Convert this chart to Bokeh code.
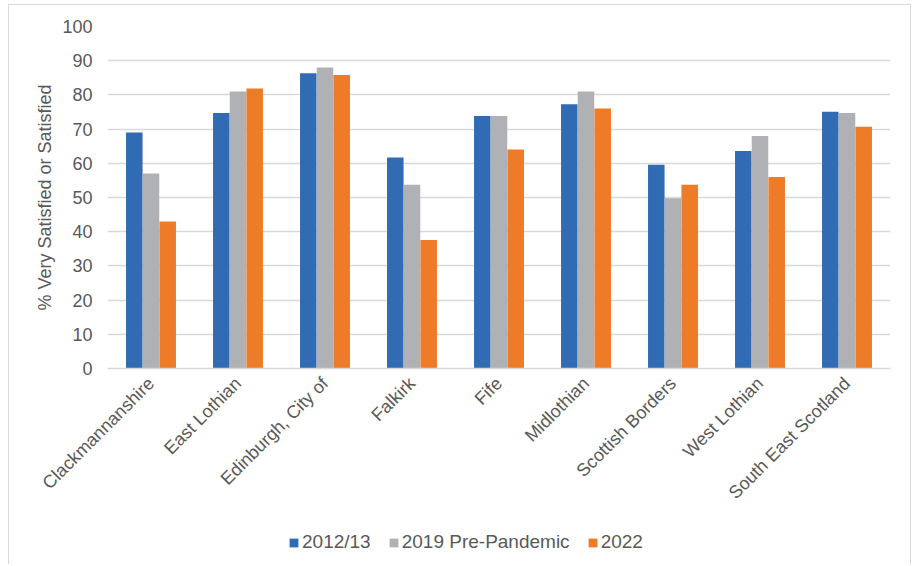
import math
from bokeh.plotting import figure
from bokeh.layouts import column
from bokeh.models import ColumnDataSource, FactorRange, Range1d, FixedTicker, Legend, LegendItem
from bokeh.transform import dodge
from bokeh.embed import file_html
from bokeh.resources import INLINE

categories = ["Clackmannanshire", "East Lothian", "Edinburgh, City of", "Falkirk", "Fife",
              "Midlothian", "Scottish Borders", "West Lothian", "South East Scotland"]
series_names = ["2012/13", "2019 Pre-Pandemic", "2022"]
v2012 = [69, 74.7, 86.3, 61.7, 73.8, 77.3, 59.6, 63.6, 75.1]
v2019 = [57, 81, 88, 53.7, 73.8, 81, 49.8, 68, 74.7]
v2022 = [43, 81.9, 85.8, 37.6, 64, 76, 53.7, 56, 70.7]
y_ticks = [0, 10, 20, 30, 40, 50, 60, 70, 80, 90, 100]

colors = ["#316BB4", "#B0B1B4", "#EE7B27"]
FONT = "Liberation Sans"
TXT = "#595959"
GRID = "#D9D9D9"
BORDER = "1px solid #D9D9D9"

src = ColumnDataSource(dict(cat=categories, a=v2012, b=v2019, c=v2022))

p = figure(x_range=FactorRange(*categories), y_range=Range1d(0, 100),
           width=903, height=515, output_backend="svg", toolbar_location=None,
           min_border_left=98, min_border_right=22, min_border_top=21, min_border_bottom=152,
           margin=(4, 0, 0, 8))
p.styles = {"border-top": BORDER, "border-left": BORDER, "border-right": BORDER}
p.outline_line_color = None

offs = [-0.192, 0.0, 0.192]
for col, off, c in zip(["a", "b", "c"], offs, colors):
    p.vbar(x=dodge("cat", off, range=p.x_range), top=col, width=0.19, source=src,
           fill_color=c, line_color=None)

p.xgrid.grid_line_color = None
p.ygrid.grid_line_color = GRID
p.ygrid.grid_line_width = 1.5
p.yaxis.ticker = FixedTicker(ticks=y_ticks)

p.yaxis.axis_line_color = None
p.yaxis.major_tick_line_color = None
p.yaxis.minor_tick_line_color = None
p.yaxis.major_tick_out = 0
p.yaxis.major_tick_in = 0
p.yaxis.minor_tick_out = 0
p.yaxis.major_label_standoff = 15
p.yaxis.major_label_text_font = FONT
p.yaxis.major_label_text_font_size = "18px"
p.yaxis.major_label_text_color = TXT
p.yaxis.axis_label = "% Very Satisfied or Satisfied"
p.yaxis.axis_label_text_font = FONT
p.yaxis.axis_label_text_font_size = "18px"
p.yaxis.axis_label_text_font_style = "normal"
p.yaxis.axis_label_text_color = TXT
p.yaxis.axis_label_standoff = 4

p.xaxis.axis_line_color = GRID
p.xaxis.axis_line_width = 1.5
p.xaxis.major_tick_line_color = None
p.xaxis.minor_tick_line_color = None
p.xaxis.major_tick_out = 0
p.xaxis.major_tick_in = 0
p.xaxis.major_label_orientation = math.pi / 4
p.xaxis.major_label_standoff = 12
p.xaxis.major_label_text_font = FONT
p.xaxis.major_label_text_font_size = "18px"
p.xaxis.major_label_text_color = TXT

# legend strip: zero-height proxy bars (same data) only provide the legend swatches
pl = figure(width=903, height=45, output_backend="svg", toolbar_location=None,
            x_range=FactorRange(*categories), y_range=Range1d(-2000, -1000),
            x_axis_location=None, y_axis_location=None,
            min_border_left=0, min_border_right=0, min_border_top=0, min_border_bottom=0,
            margin=(0, 0, 0, 8))
pl.styles = {"border-left": BORDER, "border-right": BORDER}
pl.grid.visible = False
pl.outline_line_color = None
leg_rs = [pl.vbar(x="cat", top=col, bottom=col, width=1e-6, source=src,
                  fill_color=c, line_color=None)
          for col, c in zip(["a", "b", "c"], colors)]
legend = Legend(items=[LegendItem(label=n, renderers=[r]) for n, r in zip(series_names, leg_rs)],
                orientation="horizontal", location=(181, 11),
                padding=0, margin=0, spacing=17, glyph_width=11, glyph_height=11,
                label_standoff=3, label_height=20,
                label_text_font=FONT, label_text_font_size="19px", label_text_color=TXT,
                border_line_color=None, background_fill_alpha=0)
pl.add_layout(legend, "center")

layout = column(p, pl, spacing=0)
open("out.html", "w").write(file_html(layout, INLINE))
